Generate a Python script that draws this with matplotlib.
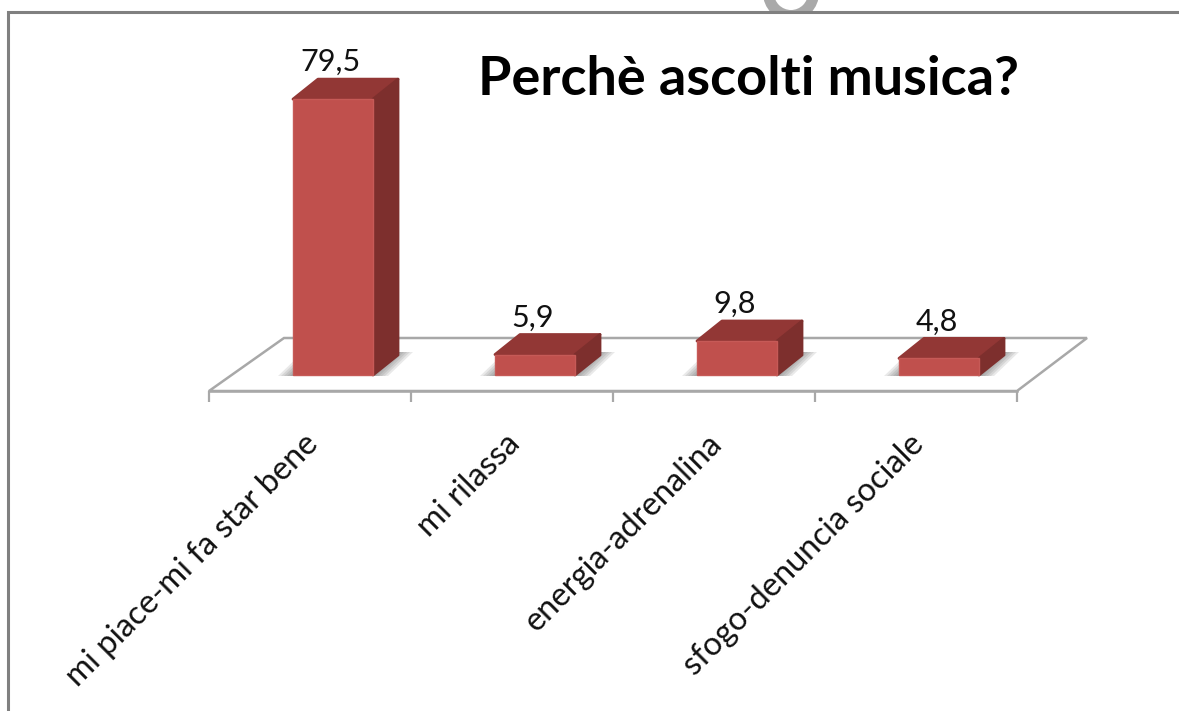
import matplotlib
matplotlib.use('Agg')
import matplotlib.pyplot as plt
from matplotlib.patches import Polygon, Circle, Rectangle
from matplotlib.transforms import ScaledTranslation

categories = ['mi piace-mi fa star bene', 'mi rilassa', 'energia-adrenalina', 'sfogo-denuncia sociale']
values = [79.5, 5.9, 9.8, 4.8]
title = 'Perchè ascolti musica?'

W, H = 1179, 711
# pixels per category and per percent, with the pixel of category 0 and of value 0
PX_CAT = 202.0
PX_VAL = 3.47
X0 = 310.0
Y0 = 375.0


def dx(px):
    return px / PX_CAT


def dy(px):
    return px / PX_VAL


fig = plt.figure(figsize=(W / 100, H / 100), dpi=100, facecolor='white')
ax = fig.add_axes([0, 0, 1, 1])
ax.set_xlim(-X0 / PX_CAT, (W - X0) / PX_CAT)
ax.set_ylim((Y0 - H) / PX_VAL, Y0 / PX_VAL)
ax.set_facecolor('white')

# floor of the 3d chart
floor_y = dy(-16)
grey = '#a8a8a8'
ax.add_patch(Polygon([(-0.5, floor_y), (3.5, floor_y), (3.5 + dx(70), floor_y + dy(53)),
                      (-0.5 + dx(75), floor_y + dy(53))], closed=True, fc='white', ec=grey, lw=1.8, zorder=1))

# bottom axis with ticks between the categories
for s in ['top', 'left', 'right']:
    ax.spines[s].set_visible(False)
ax.spines['bottom'].set_position(('data', floor_y))
ax.spines['bottom'].set_bounds(-0.5, 3.5)
ax.spines['bottom'].set_color(grey)
ax.spines['bottom'].set_linewidth(1.8)
ax.spines['bottom'].set_zorder(2)
ax.set_yticks([])
ax.set_xticks(range(len(categories)))
ax.set_xticklabels(categories, rotation=45, ha='right', rotation_mode='anchor',
                   fontsize=23.5, family='Lato', color='#111111')
ax.tick_params(axis='x', which='major', length=0, pad=27)
ax.set_xticks([i - 0.5 for i in range(len(categories) + 1)], minor=True)
ax.tick_params(axis='x', which='minor', length=8, width=1.6, color=grey)
shift = ScaledTranslation(-7 / 100, 0, fig.dpi_scale_trans)
for lab in ax.get_xticklabels():
    lab.set_transform(lab.get_transform() + shift)

bar_w = dx(80)
off = dx(23)
depth_x = dx(25)
depth_y = dy(20)
for i, v in enumerate(values):
    left = i + off - bar_w / 2
    right = left + bar_w
    # soft shadow on the floor
    for grow in [15, 12, 9, 6, 3]:
        ax.add_patch(Polygon([(left - dx(grow), dy(-1)), (right + dx(grow), dy(-1)),
                              (right + depth_x + dx(grow), dy(23)), (left + depth_x - dx(grow), dy(23))],
                             closed=True, fc='#555555', ec='none', alpha=0.13, zorder=3))
    ax.bar(i + off, v, width=bar_w, color='#c0504d', edgecolor='#c65a57', linewidth=1, zorder=6)
    ax.add_patch(Polygon([(left, v), (right, v), (right + depth_x, v + depth_y), (left + depth_x, v + depth_y)],
                         closed=True, fc='#923735', ec='#923735', lw=2, joinstyle='round', zorder=5))
    ax.add_patch(Polygon([(right, 0), (right + depth_x, depth_y), (right + depth_x, v + depth_y), (right, v)],
                         closed=True, fc='#7d2f2d', ec='#7d2f2d', lw=2, joinstyle='round', zorder=5))
    ax.text(i + off - dx(2), v + depth_y + dy(8), str(v).replace('.', ','), ha='center', va='baseline',
            fontsize=22, family='Lato', color='#111111', zorder=7)

ax.text((748 - X0) / PX_CAT, (Y0 - 95) / PX_VAL, title, ha='center', va='baseline',
        fontsize=39, fontweight='bold', family='Lato', color='black', zorder=7)

# frame of the picture, with the piece of ring above it
frame = '#808080'
ax.plot([dx(8 - X0), dx(8 - X0), dx(W - X0)], [dy(Y0 - H), dy(Y0 - 12), dy(Y0 - 12)],
        color=frame, lw=2.2, solid_joinstyle='miter', zorder=8, clip_on=False)
trans = fig.dpi_scale_trans
ring = Circle((791 / 100, (H + 7) / 100), 22.5 / 100, transform=trans, fill=False, ec='#a9a9a9', lw=7.9, zorder=7)
ax.add_patch(ring)
ring.set_clip_path(Rectangle((0, (H - 12) / 100), W / 100, 12 / 100, transform=trans))

fig.savefig('out.png', dpi=100)
